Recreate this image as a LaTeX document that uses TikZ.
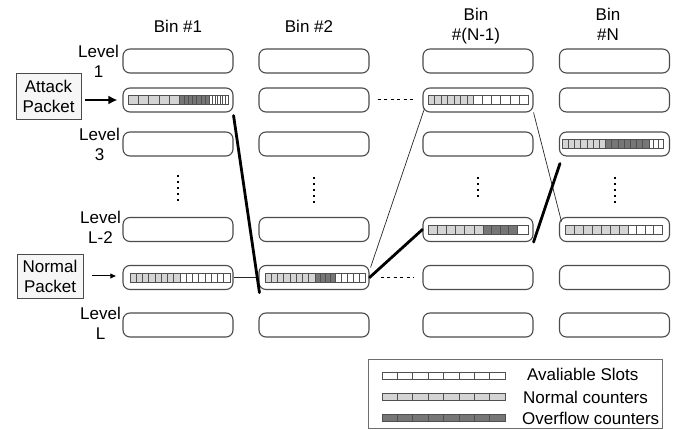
\documentclass[tikz,border=0pt]{standalone}
\usepackage{fontspec}
\setmainfont{Liberation Sans}
\usetikzlibrary{arrows.meta,calc}
\definecolor{lightc}{RGB}{212,212,212}
\definecolor{darkc}{RGB}{118,118,118}
\definecolor{edgec}{RGB}{75,75,75}
\definecolor{celledge}{RGB}{80,80,80}
\definecolor{pktfill}{RGB}{246,246,246}
\def\cellh{9}
\newcommand\cellrun[5]{\foreach \k in {1,...,#3}{\draw[cellline,fill=#5] ({#1+(\k-1)*#4},{#2-\cellh/2}) rectangle ++(#4,\cellh);}}
\tikzset{
  bin/.style={draw=edgec, line width=1.1pt, rounded corners=7pt, minimum width=110pt, minimum height=24pt, inner sep=0pt},
  cellline/.style={draw=celledge, line width=0.6pt},
  txt/.style={font=\fontsize{17}{20}\selectfont, inner sep=0pt},
  pkt/.style={txt, draw=edgec, fill=pktfill, line width=0.8pt, align=center},
  heavy/.style={line width=2.8pt, line cap=round},
  thinl/.style={line width=0.7pt, draw=black!85},
  dashl/.style={line width=1pt, dash pattern=on 3pt off 3.5pt},
  vdotl/.style={line width=2pt, dash pattern=on 2.5pt off 3.5pt},
}
\begin{document}
\begin{tikzpicture}[x=1pt,y=-1pt]
\useasboundingbox (0,0) rectangle (678,430);
% bins
\foreach \c/\x in {1/178,2/314,3/478,4/614.5}
  \foreach \r/\y in {1/61,2/100,3/144,4/229.5,5/277.5,6/325}
    \node[bin] (b\c\r) at (\x,\y) {};
% headers
\node[txt, anchor=base] (h1) at (178,33) {Bin \#1};
\node[txt, anchor=base] (h2) at (309,33) {Bin \#2};
\node[txt, anchor=north, align=center] (h3) at (476,8) {Bin\\\#(N-1)};
\node[txt, anchor=north, align=center] (h4) at (608,8) {Bin\\\#N};
% level labels
\node[txt, anchor=east, align=center] (l1) at (119,61.5) {Level\\1};
\node[txt, anchor=east, align=center] (l3) at (120,144) {Level\\3};
\node[txt, anchor=east, align=center] (l4) at (121,227) {Level\\L-2};
\node[txt, anchor=east, align=center] (l6) at (121,323) {Level\\L};
% packets
\node[pkt, minimum width=65pt, minimum height=46pt] (pa) at (48.5,96) {Attack\\Packet};
\node[pkt, minimum width=66pt, minimum height=44pt] (pn) at (50,276) {Normal\\Packet};
\draw[line width=2.4pt, -{Latex[length=9pt,width=9pt]}] ($(pa.east)+(4,4)$) -- ($(b12.west)+(-5,0)$);
\draw[line width=1pt, -{Latex[length=6pt,width=5.5pt]}] ($(pn.east)+(9,0)$) -- ($(b15.west)+(-6,-1.5)$);
% bars
\cellrun{128}{100}{5}{10.3}{lightc}
\cellrun{179.5}{100}{7}{4.3}{darkc}
\cellrun{209.6}{100}{7}{2.63}{white}
\cellrun{428}{100}{7}{6.5}{lightc}
\cellrun{473.5}{100}{6}{9.08}{white}
\cellrun{562}{144}{7}{6.2}{lightc}
\cellrun{605.4}{144}{7}{6.2}{darkc}
\cellrun{648.8}{144}{3}{4.73}{white}
\cellrun{428}{229.5}{6}{9.17}{lightc}
\cellrun{483}{229.5}{4}{8.5}{darkc}
\cellrun{517}{229.5}{1}{11}{white}
\cellrun{565}{229.5}{7}{9}{lightc}
\cellrun{628}{229.5}{4}{8.5}{white}
\cellrun{130}{277.5}{8}{6.25}{lightc}
\cellrun{180}{277.5}{8}{6.25}{white}
\cellrun{265}{277.5}{8}{6.25}{lightc}
\cellrun{315}{277.5}{4}{5}{darkc}
\cellrun{335}{277.5}{5}{6}{white}
% connectors
\draw[thinl] (b15.east) -- (b25.west);
\draw[thinl] ($(b32.south west)+(2,-4)$) -- ($(b25.north east)+(1,2.5)$);
\draw[thinl] (b32.south east) -- ($(b44.north west)+(2.5,4.5)$);
\draw[heavy] ($(b12.south east)+(0,3)$) -- ($(b25.south west)+(1,2.5)$);
\draw[heavy] (b25.east) -- (b34.west);
\draw[heavy] (b34.south east) -- ($(b43.south west)+(1,7)$);
\draw[dashl] ($(b22.east)+(8,0)$) -- ($(b32.west)+(-9,0)$);
\draw[dashl] ($(b25.east)+(11,0)$) -- ($(b35.west)+(-8,0)$);
% vertical dots
\draw[vdotl] (178,175) -- (178,203);
\draw[vdotl] (314,177) -- (314,204);
\draw[vdotl] (478,177) -- (478,199);
\draw[vdotl] (615,177) -- (615,204);
% legend
\node[draw=edgec!80, line width=0.8pt, minimum width=294pt, minimum height=69pt, inner sep=0pt] (leg) at (515,394) {};
\def\cellh{7}
\cellrun{382}{376}{8}{15.375}{white}
\cellrun{382}{397}{8}{15.375}{lightc}
\cellrun{382}{418}{8}{15.375}{darkc}
\node[txt, anchor=base west] (t1) at (527,380.5) {Avaliable Slots};
\node[txt, anchor=base west] (t2) at (523,403.5) {Normal counters};
\node[txt, anchor=base west] (t3) at (522,425) {Overflow counters};
\end{tikzpicture}
\end{document}
